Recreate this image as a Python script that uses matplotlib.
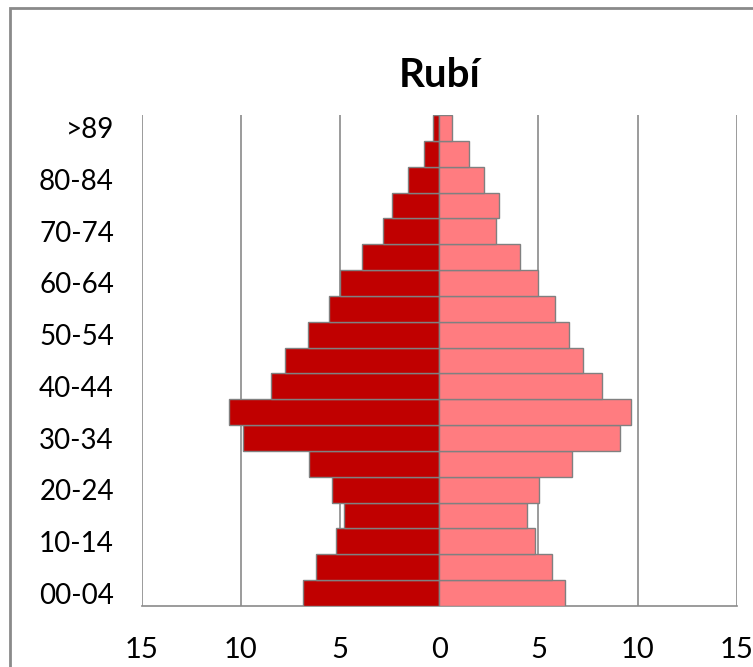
import numpy as np
import matplotlib
matplotlib.use("Agg")
import matplotlib.pyplot as plt
from matplotlib.patches import Rectangle

# Grupos de edad (de abajo hacia arriba)
grupos = ["00-04", "05-09", "10-14", "15-19", "20-24", "25-29", "30-34", "35-39",
          "40-44", "45-49", "50-54", "55-59", "60-64", "65-69", "70-74", "75-79",
          "80-84", "85-89", ">89"]

# Porcentajes por sexo
hombres = [6.89, 6.19, 5.21, 4.81, 5.42, 6.57, 9.91, 10.58, 8.50, 7.80,
           6.64, 5.55, 5.01, 3.87, 2.83, 2.38, 1.56, 0.79, 0.32]
mujeres = [6.32, 5.68, 4.85, 4.44, 5.05, 6.72, 9.10, 9.67, 8.20, 7.23,
           6.52, 5.82, 4.96, 4.07, 2.87, 3.03, 2.26, 1.48, 0.67]

ticks_x = [-15, -10, -5, 0, 5, 10, 15]

plt.rcParams['font.family'] = ['Lato', 'DejaVu Sans']

fig = plt.figure(figsize=(7.53, 6.67), dpi=100)
ax = fig.add_axes([141.7 / 753, 61 / 667, 595 / 753, 491 / 667])

y = np.arange(len(grupos))
ax.barh(y, -np.array(hombres), height=1.0, color='#C00000', edgecolor='#808080', linewidth=1, zorder=3)
ax.barh(y, mujeres, height=1.0, color='#FF7C80', edgecolor='#808080', linewidth=1, zorder=3)

ax.set_xlim(-15, 15)
ax.set_ylim(-0.5, len(grupos) - 0.5)
ax.set_xticks(ticks_x)
ax.set_xticklabels([str(abs(t)) for t in ticks_x])
ax.set_yticks(y[::2])
ax.set_yticklabels(grupos[::2])
ax.tick_params(axis='x', length=0, pad=22, labelsize=21)
ax.tick_params(axis='y', length=0, pad=20, labelsize=20)

for t in ticks_x:
    ax.axvline(t, color='#8a8a8a', lw=1.2, zorder=1)
for s in ['top', 'right', 'left']:
    ax.spines[s].set_visible(False)
ax.spines['bottom'].set_color('#8a8a8a')
ax.spines['bottom'].set_linewidth(1.2)

ax.set_title("Rubí", fontsize=29, fontweight='bold', pad=20)

# marco exterior del gráfico
fig.patches.append(Rectangle((10 / 753, -0.1), 1.2, 1 - 8 / 667 + 0.1, transform=fig.transFigure,
                             fill=False, edgecolor='#8a8a8a', linewidth=2))

fig.savefig("out.png", dpi=100)
